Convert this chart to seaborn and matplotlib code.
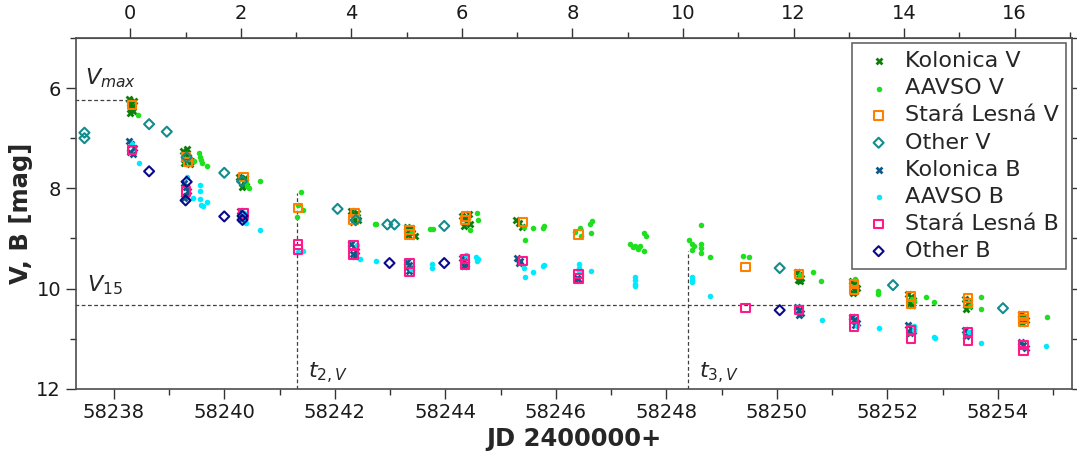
import numpy as np
import pandas as pd
import matplotlib
matplotlib.use("Agg")
import matplotlib.pyplot as plt
from matplotlib.ticker import MultipleLocator, FixedLocator
import seaborn as sns

# ---- data: JD and magnitudes ----
T0 = 58238.3
top_major = [0, 2, 4, 6, 8, 10, 12, 14, 16]
top_minor = [1, 3, 5, 7, 9, 11, 13, 15, 17]

kol_v_jd = [58238.28, 58238.30, 58238.33, 58238.35, 58238.29, 58238.36, 58238.31,
            58239.25, 58239.30, 58239.35, 58239.40, 58239.28, 58239.33, 58239.38,
            58240.26, 58240.30, 58240.35, 58240.40, 58240.32, 58240.38,
            58242.30, 58242.34, 58242.38, 58242.42, 58242.33, 58242.40,
            58243.30, 58243.35, 58243.40, 58243.45, 58243.38, 58243.33,
            58244.30, 58244.35, 58244.40, 58244.45, 58244.33, 58244.42,
            58245.28, 58245.33, 58245.38,
            58250.36, 58250.40, 58250.44, 58250.42, 58250.38,
            58251.36, 58251.40, 58251.44, 58251.42, 58251.38,
            58252.38, 58252.42, 58252.46, 58252.40, 58252.44,
            58253.40, 58253.45, 58253.48, 58253.42,
            58254.42, 58254.46, 58254.50, 58254.44]
kol_v_mag = [6.22, 6.30, 6.38, 6.45, 6.50, 6.25, 6.42,
             7.25, 7.30, 7.38, 7.45, 7.50, 7.22, 7.52,
             7.78, 7.82, 7.88, 7.95, 7.98, 7.80,
             8.46, 8.52, 8.58, 8.64, 8.68, 8.50,
             8.78, 8.84, 8.90, 8.96, 8.80, 8.94,
             8.55, 8.60, 8.66, 8.72, 8.76, 8.52,
             8.63, 8.70, 8.78,
             9.66, 9.72, 9.78, 9.84, 9.82,
             9.84, 9.90, 9.98, 10.05, 10.08,
             10.10, 10.16, 10.22, 10.28, 10.32,
             10.20, 10.28, 10.35, 10.40,
             10.50, 10.56, 10.62, 10.68]

aavso_v_jd = [58238.44,
              58239.55, 58239.56, 58239.57, 58239.60, 58239.68, 58239.45,
              58240.40, 58240.42, 58240.45, 58240.64,
              58241.33, 58241.39, 58241.32, 58241.43,
              58242.73, 58242.75,
              58243.40, 58243.72, 58243.77,
              58244.58, 58244.60, 58244.45,
              58245.42, 58245.58, 58245.76, 58245.79, 58245.45,
              58246.44, 58246.35, 58246.46, 58246.62, 58246.66, 58246.64,
              58247.35, 58247.40, 58247.44, 58247.48, 58247.52, 58247.60, 58247.64, 58247.60,
              58248.40, 58248.47, 58248.50, 58248.46, 58248.62, 58248.62, 58248.62, 58248.62, 58248.79,
              58249.39, 58249.50,
              58250.42, 58250.65, 58250.79,
              58251.42, 58251.82, 58251.82,
              58252.45, 58252.48, 58252.69, 58252.85,
              58253.50, 58253.70, 58253.70,
              58254.88]
aavso_v_mag = [6.54,
               7.30, 7.38, 7.44, 7.50, 7.56, 7.45,
               7.90, 7.96, 8.00, 7.85,
               8.33, 8.07, 8.57, 8.44,
               8.71, 8.72,
               8.88, 8.81, 8.82,
               8.49, 8.64, 8.84,
               8.78, 8.79, 8.80, 8.76, 9.04,
               8.80, 8.88, 8.96, 8.71, 8.65, 8.89,
               9.10, 9.16, 9.14, 9.20, 9.15, 8.90, 8.95, 9.25,
               9.04, 9.10, 9.14, 9.22, 8.74, 9.10, 9.18, 9.28, 9.36,
               9.35, 9.37,
               9.72, 9.66, 9.84,
               9.80, 10.04, 10.10,
               10.20, 10.25, 10.17, 10.26,
               10.35, 10.17, 10.41,
               10.57]

sl_v_jd = [58238.33, 58239.31, 58239.34, 58240.35, 58241.34, 58242.37, 58242.34,
           58243.35, 58243.35, 58244.37, 58244.36, 58245.40, 58246.41, 58249.43,
           58250.40, 58251.40, 58251.40, 58252.42, 58252.42, 58253.46, 58253.46,
           58254.46, 58254.46, 58254.46]
sl_v_mag = [6.34, 7.37, 7.47, 7.78, 8.39, 8.49, 8.62,
            8.83, 8.92, 8.56, 8.63, 8.67, 8.92, 9.57,
            9.71, 9.91, 10.03, 10.16, 10.31, 10.19, 10.29,
            10.54, 10.60, 10.67]

oth_v_jd = [58237.47, 58237.47, 58238.64, 58238.96, 58239.32, 58240.00, 58240.32,
            58242.05, 58242.38, 58242.95, 58243.08, 58243.98, 58250.05, 58252.10, 58254.09]
oth_v_mag = [6.89, 7.00, 6.72, 6.87, 7.38, 7.69, 7.86,
             8.41, 8.63, 8.72, 8.72, 8.75, 9.59, 9.93, 10.39]

kol_b_jd = [58238.28, 58238.32, 58238.36, 58238.30, 58238.34,
            58239.27, 58239.30, 58239.34, 58239.30, 58239.28,
            58240.28, 58240.32, 58240.36, 58240.30,
            58242.30, 58242.34, 58242.38, 58242.33, 58242.36,
            58243.30, 58243.34, 58243.38, 58243.35,
            58244.30, 58244.34, 58244.38, 58244.33,
            58245.30, 58245.35, 58245.33,
            58246.38, 58246.40,
            58250.36, 58250.40, 58250.44, 58250.40,
            58251.36, 58251.40, 58251.44, 58251.42,
            58252.38, 58252.42, 58252.46, 58252.40,
            58253.40, 58253.45, 58253.42,
            58254.42, 58254.46, 58254.50]
kol_b_mag = [7.06, 7.12, 7.20, 7.28, 7.32,
             7.90, 7.98, 8.05, 8.15, 8.20,
             8.46, 8.52, 8.58, 8.62,
             9.10, 9.16, 9.24, 9.30, 9.35,
             9.46, 9.52, 9.58, 9.64,
             9.38, 9.44, 9.50, 9.55,
             9.38, 9.44, 9.48,
             9.78, 9.80,
             10.36, 10.42, 10.48, 10.52,
             10.56, 10.62, 10.68, 10.72,
             10.72, 10.78, 10.84, 10.88,
             10.82, 10.88, 10.95,
             11.06, 11.12, 11.18]

aavso_b_jd = [58238.33, 58238.45,
              58239.32, 58239.44, 58239.56, 58239.56, 58239.56, 58239.58, 58239.62, 58239.69,
              58240.36, 58240.38, 58240.40, 58240.64,
              58241.34, 58241.43,
              58242.40, 58242.45, 58242.75,
              58243.38, 58243.75, 58243.76,
              58244.38, 58244.55, 58244.58, 58244.60,
              58245.42, 58245.44, 58245.58, 58245.76, 58245.79,
              58246.42, 58246.42, 58246.42, 58246.64,
              58247.44, 58247.44, 58247.44, 58247.44,
              58248.47, 58248.47, 58248.47, 58248.79,
              58250.81,
              58251.45, 58251.84,
              58252.48, 58252.48, 58252.84, 58252.86,
              58253.48, 58253.70,
              58254.86]
aavso_b_mag = [7.12, 7.50,
               7.77, 8.20, 7.94, 8.05, 8.22, 8.33, 8.36, 8.27,
               8.50, 8.60, 8.70, 8.84,
               9.27, 9.24,
               9.13, 9.41, 9.44,
               9.60, 9.50, 9.58,
               9.33, 9.36, 9.45, 9.40,
               9.59, 9.76, 9.67, 9.54, 9.53,
               9.50, 9.58, 9.64, 9.65,
               9.77, 9.83, 9.90, 9.94,
               9.77, 9.82, 9.87, 10.15,
               10.62,
               10.75, 10.79,
               10.75, 10.82, 10.97, 10.98,
               10.86, 11.09,
               11.15]

sl_b_jd = [58238.33, 58239.31, 58240.35, 58241.34, 58241.34, 58242.34, 58242.34,
           58243.35, 58243.35, 58244.36, 58244.36, 58245.41, 58246.41, 58246.41,
           58249.43, 58250.40, 58251.40, 58251.40, 58252.42, 58252.42, 58253.46,
           58253.46, 58254.46, 58254.46]
sl_b_mag = [7.24, 8.06, 8.50, 9.12, 9.22, 9.13, 9.32,
            9.50, 9.67, 9.41, 9.52, 9.45, 9.71, 9.80,
            10.39, 10.43, 10.60, 10.77, 10.82, 11.01, 10.86,
            11.04, 11.13, 11.24]

oth_b_jd = [58238.64, 58239.32, 58239.30, 58240.00, 58240.33, 58240.33, 58242.99, 58243.98, 58250.05]
oth_b_mag = [7.66, 7.87, 8.24, 8.56, 8.55, 8.63, 9.49, 9.49, 10.43]

v_max, v_15 = 6.24, 10.32
t_vmax, t_2, t_3, t_15 = 58238.25, 58241.32, 58248.39, 58253.45

# ---- plot ----
sns.set_style("ticks")
plt.rcParams['font.family'] = ['DejaVu Sans']

fig, ax = plt.subplots(figsize=(10.77, 4.57), dpi=100)
fig.subplots_adjust(left=0.0702, right=0.9954, bottom=0.149, top=0.917)

series = [
    ("Kolonica V", kol_v_jd, kol_v_mag, "X", "#0a800a", 32, True),
    ("AAVSO V", aavso_v_jd, aavso_v_mag, "o", "#1ee01e", 16, True),
    ("Stará Lesná V", sl_v_jd, sl_v_mag, "s", "#ff8000", 36, False),
    ("Other V", oth_v_jd, oth_v_mag, "D", "#128c8c", 26, False),
    ("Kolonica B", kol_b_jd, kol_b_mag, "X", "#0d5a8a", 32, True),
    ("AAVSO B", aavso_b_jd, aavso_b_mag, "o", "#00eaff", 16, True),
    ("Stará Lesná B", sl_b_jd, sl_b_mag, "s", "#ff1a8c", 36, False),
    ("Other B", oth_b_jd, oth_b_mag, "D", "#0a0a8c", 26, False),
]

for name, jd, mag, mk, col, size, filled in series:
    df = pd.DataFrame({"JD": jd, "mag": mag})
    sns.scatterplot(data=df, x="JD", y="mag", marker=mk, s=size, color=col,
                    edgecolor=col, linewidth=0, label=name, ax=ax, zorder=3)
    pts = ax.collections[-1]
    if not filled:
        pts.set_facecolor("none")
        pts.set_edgecolor(col)
        pts.set_linewidth(1.5)

# guide lines
dash = dict(color="0.25", lw=0.9, ls=(0, (3, 2)), zorder=1)
ax.plot([58237.3, t_vmax], [v_max, v_max], **dash)
ax.plot([58237.3, t_15], [v_15, v_15], **dash)
ax.plot([t_2, t_2], [12, 8.1], **dash)
ax.plot([t_3, t_3], [12, v_max + 3], **dash)

ax.text(58237.48, 5.93, r"$V_{max}$", fontsize=16)
ax.text(58237.52, 10.05, r"$V_{15}$", fontsize=16)
ax.text(t_2 + 0.2, 11.8, r"$t_{2,V}$", fontsize=16)
ax.text(t_3 + 0.2, 11.8, r"$t_{3,V}$", fontsize=16)

ax.set_xlim(58237.31, 58255.34)
ax.set_ylim(12, 5)
ax.xaxis.set_major_locator(MultipleLocator(2))
ax.xaxis.set_minor_locator(MultipleLocator(1))
ax.yaxis.set_major_locator(MultipleLocator(2))
ax.yaxis.set_minor_locator(MultipleLocator(1))
ax.tick_params(axis="both", which="major", direction="out", length=7, width=1,
               labelsize=14, colors="0.2", right=True)
ax.tick_params(axis="both", which="minor", direction="out", length=4, width=1,
               colors="0.2", right=True)
ax.tick_params(labelcolor="0.1")

# days since maximum on top
sec = ax.secondary_xaxis("top", functions=(lambda x: x - T0, lambda t: t + T0))
sec.xaxis.set_major_locator(FixedLocator(top_major))
sec.xaxis.set_minor_locator(FixedLocator(top_minor))
sec.tick_params(which="major", direction="out", length=7, width=1, labelsize=14,
                colors="0.2", labelcolor="0.1")
sec.tick_params(which="minor", direction="out", length=4, width=1, colors="0.2")

for sp in ax.spines.values():
    sp.set_visible(True)
    sp.set_color("0.3")
    sp.set_linewidth(1.2)
sec.spines["top"].set_color("0.3")

ax.set_xlabel("JD 2400000+", fontsize=17.5, fontweight="bold", labelpad=3)
ax.set_ylabel("V, B [mag]", fontsize=17.5, fontweight="bold", labelpad=2)

leg = ax.legend(loc="upper right", fontsize=16, frameon=True, fancybox=False,
                borderaxespad=0.25, handlelength=1.66, handletextpad=0.35,
                labelspacing=0.32, markerscale=1.0, borderpad=0.35)
leg.get_frame().set_edgecolor("0.25")
leg.get_frame().set_linewidth(1.2)

fig.savefig("out.png", dpi=100)
